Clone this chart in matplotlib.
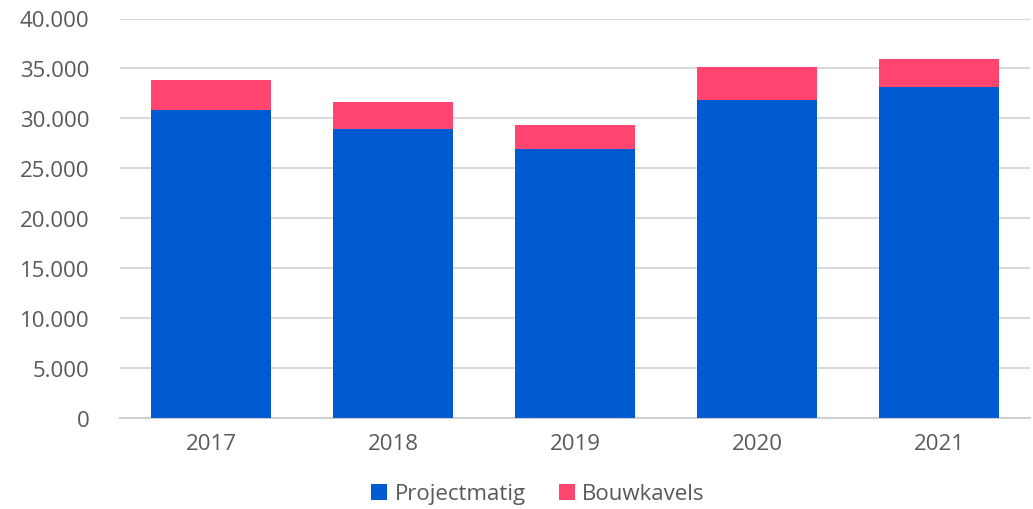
import matplotlib.pyplot as plt
from matplotlib.ticker import FuncFormatter

# data
years = ['2017', '2018', '2019', '2020', '2021']
projectmatig = [30800, 28900, 26900, 31800, 33100]
bouwkavels = [3050, 2750, 2450, 3300, 2850]

blue = '#005AD2'
pink = '#FF4570'
grey_text = '#595959'

plt.rcParams['font.family'] = ['Open Sans', 'DejaVu Sans']

fig = plt.figure(figsize=(10.33, 5.10), dpi=100)
ax = fig.add_axes([120 / 1033, 91 / 510, 910 / 1033, 399.5 / 510])

x = range(len(years))
ax.bar(x, projectmatig, width=0.66, color=blue, label='Projectmatig', zorder=3)
ax.bar(x, bouwkavels, width=0.66, bottom=projectmatig, color=pink,
       label='Bouwkavels', zorder=3)

ax.set_xlim(-0.5, len(years) - 0.5)
ax.set_ylim(0, 40000)
ax.set_yticks(range(0, 40001, 5000))
ax.yaxis.set_major_formatter(FuncFormatter(lambda v, p: f'{int(v):,}'.replace(',', '.')))
ax.set_xticks(list(x))
ax.set_xticklabels(years)

ax.grid(axis='y', color='#D9D9D9', linewidth=1.5, zorder=0)
for s in ['top', 'right', 'left']:
    ax.spines[s].set_visible(False)
ax.spines['bottom'].set_color('#D0D0D0')
ax.spines['bottom'].set_linewidth(1.5)
ax.tick_params(axis='both', length=0, labelsize=16, colors=grey_text)
ax.tick_params(axis='y', pad=22)
ax.tick_params(axis='x', pad=11)

leg = fig.legend(loc='center', bbox_to_anchor=(538 / 1033, 1 - 495 / 510), ncol=2,
                 frameon=False, fontsize=16, handlelength=0.7, handleheight=0.7,
                 handletextpad=0.35, columnspacing=1.5)
for t in leg.get_texts():
    t.set_color(grey_text)

fig.savefig('out.png', dpi=100)
